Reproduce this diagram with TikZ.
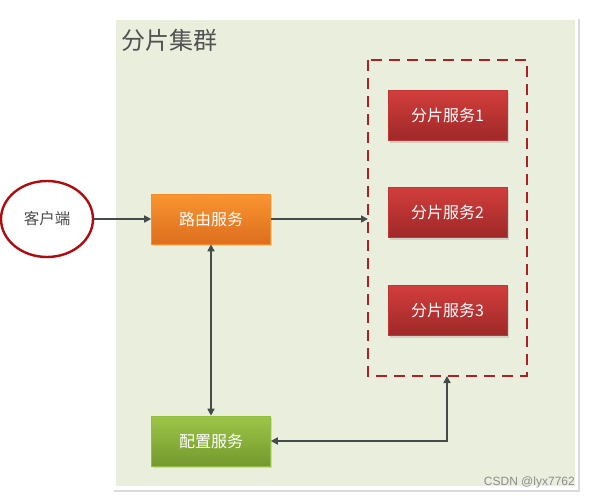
\documentclass[tikz,border=0pt]{standalone}
\usepackage{fontspec}
\newfontfamily\cjk{Noto Sans CJK SC}
\setsansfont{Liberation Sans}
\usetikzlibrary{arrows.meta,shadows,positioning,shapes.geometric}
\definecolor{panelfill}{HTML}{EAEEDD}
\definecolor{arrowgray}{HTML}{454A4A}
\definecolor{clientred}{HTML}{B00C10}
\definecolor{dashred}{HTML}{AA2222}
\definecolor{orangetop}{HTML}{FA9530}
\definecolor{orangebot}{HTML}{DD6E1E}
\definecolor{redtop}{HTML}{D23E3C}
\definecolor{redbot}{HTML}{9E2828}
\definecolor{greentop}{HTML}{9DC648}
\definecolor{greenbot}{HTML}{73992E}
\tikzset{
  svc/.style={minimum width=119pt, minimum height=50pt, inner sep=0pt, text=white,
    font=\cjk\fontsize{16}{18}\selectfont, drop shadow={shadow xshift=1.5pt, shadow yshift=-2pt, opacity=0.25}},
  orangebox/.style={svc, top color=orangetop, bottom color=orangebot, draw=orangetop!80!orangebot, line width=0.6pt},
  redbox/.style={svc, top color=redtop, bottom color=redbot, draw=redtop!70!redbot, line width=0.6pt},
  greenbox/.style={svc, top color=greentop, bottom color=greenbot, draw=greentop!80!greenbot, line width=0.6pt},
  conn/.style={draw=arrowgray, line width=1.6pt, -{Triangle[length=7pt,width=7pt]}},
  biconn/.style={draw=arrowgray, line width=1.6pt, {Triangle[length=7pt,width=7pt]}-{Triangle[length=7pt,width=7pt]}}
}
\begin{document}
\begin{tikzpicture}[x=1pt,y=-1pt]
\useasboundingbox (0,0) rectangle (590,499);
\fill[white] (0,0) rectangle (590,499);
% panel shadow and frame
\fill[black!14] (114,19) rectangle (580,492);
\fill[white] (112,16) rectangle (578,490);
\fill[panelfill] (116,20) rectangle (575,486);
\node[anchor=west, text=black!68, font=\cjk\fontsize{24}{28}\selectfont, inner sep=0pt] (title) at (121,40) {分片集群};
% dashed group
\draw[dashred, line width=1.8pt, dash pattern=on 11pt off 7pt] (368,60) rectangle (527,376);
\coordinate (grpleft) at (368,219);
\coordinate (grpbot) at (447,376);
% client
\node[draw=clientred, line width=2.4pt, fill=white, ellipse, minimum width=92pt, minimum height=76pt, inner sep=0pt,
      font=\cjk\fontsize{15.5}{18}\selectfont, text=black!70] (client) at (47,219) {客户端};
% boxes
\node[orangebox] (router) at (211,219) {路由服务};
\node[greenbox] (config) at (211,441) {配置服务};
\node[redbox] (s1) at (447.5,115.5) {分片服务1};
\node[redbox] (s2) at (447.5,212.5) {分片服务2};
\node[redbox] (s3) at (447.5,310.5) {分片服务3};
% connectors
\draw[conn] (client.east) -- (client.east -| router.west);
\draw[conn] (router.east) -- (router.east -| grpleft);
\draw[biconn] (router.south) -- (config.north);
\draw[biconn] (config.east) -- (grpbot |- config.east) -- (grpbot);
% watermark
\node[anchor=south east, font=\sffamily\fontsize{12}{14}\selectfont, text=black!45, inner sep=0pt] (wm) at (575,488) {CSDN @lyx7762};
\end{tikzpicture}
\end{document}
